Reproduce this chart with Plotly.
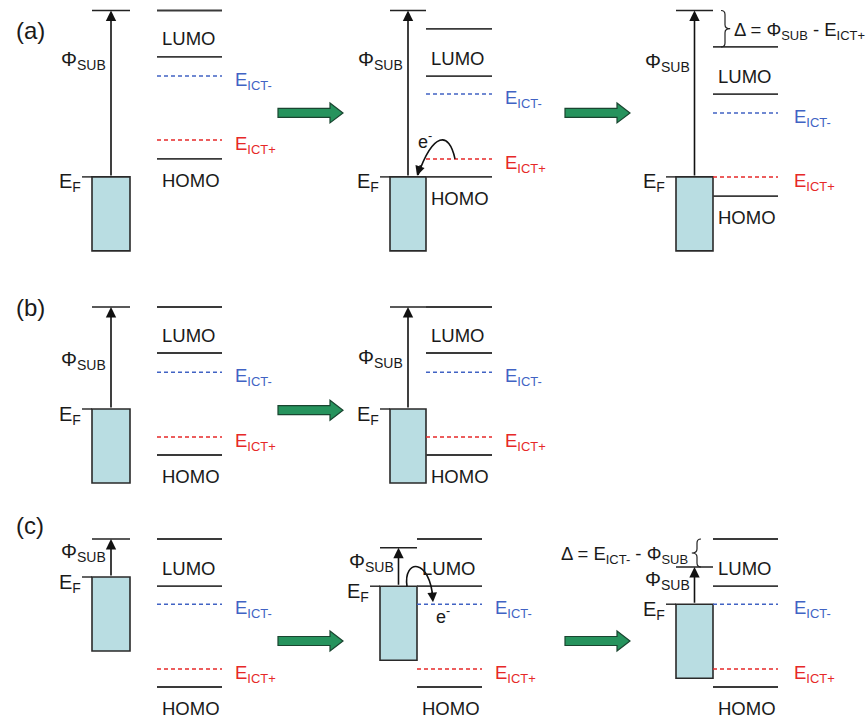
import plotly.graph_objects as go

# ---------------- data (energies in eV, relative to the vacuum level of each row) ----------------
panels = ["a1", "a2", "a3", "b1", "b2", "c1", "c2", "c3"]
panel_row = [0, 0, 0, 1, 1, 2, 2, 2]
vacuum_level = [0.0, 0.0, 0.0, 0.0, 0.0, 0.0, -0.22, -0.70]
fermi_level = [-4.16, -4.16, -4.16, -2.55, -2.55, -0.95, -1.18, -1.63]
mol_vacuum = [0.0, -0.46, -0.91, 0.0, 0.0, 0.0, 0.0, 0.0]
lumo = [-1.16, -1.64, -2.09, -1.15, -1.15, -1.18, -1.18, -1.18]
e_ict_minus = [-1.64, -2.09, -2.56, -1.63, -1.63, -1.63, -1.63, -1.63]
e_ict_plus = [-3.24, -3.71, -4.16, -3.25, -3.25, -3.25, -3.25, -3.25]
homo = [-3.71, -4.16, -4.64, -3.70, -3.70, -3.70, -3.70, -3.70]
row_labels = ["(a)", "(b)", "(c)"]

# ---------------- layout / style ----------------
W, H = 868, 720
PX = 40.0  # pixels per eV
ROWS = [(0, 260, 10.5), (260, 490, 307), (490, 720, 539)]  # top px, bottom px, vacuum px
box_x0 = [92, 390, 676, 92, 390, 92, 380, 676]
box_x1 = [130, 426, 713, 130, 426, 130, 417, 713]
mol_x0 = [157, 426, 713, 157, 426, 157, 417, 713]
mol_x1 = [222, 492, 778, 222, 492, 222, 482, 778]
lbl_x = [233, 503, 792, 233, 503, 233, 493, 792]
phi_lbl_y = [-1.24, -1.24, -1.31, -1.33, -1.28, -0.33, -0.58, -1.03]
row_label_y = [-0.51, 0.0, 0.35]
box_depth = 1.85
green_arrows = [(0, 278, 343), (0, 565, 630), (1, 278, 343), (2, 278, 343), (2, 565, 630)]
green_arrow_y = [-2.56, -2.58, -2.55]

FONT = "Liberation Sans, Arial, sans-serif"
TXT = "#1a1a1a"
LEVEL = "#3a3a3a"
BLUE = "#4163c4"
RED = "#e62828"
BOX_FILL = "#b9dde2"
GREEN = "#26935d"

fig = go.Figure()
shapes = []
annotations = []


def refs(r):
    s = "" if r == 0 else str(r + 1)
    return "x" + s, "y" + s


def seg(r, x0, x1, e, color, width=1.6, dash="solid"):
    xr, yr = refs(r)
    fig.add_trace(go.Scatter(x=[x0, x1], y=[e, e], mode="lines",
                             line=dict(color=color, width=width, dash=dash),
                             xaxis=xr, yaxis=yr, showlegend=False, hoverinfo="skip"))


def text(r, x, y, s, size=18.5, color=TXT, xanchor="left", yshift=0, xshift=0):
    xr, yr = refs(r)
    annotations.append(dict(x=x, y=y, xref=xr, yref=yr, text=s, showarrow=False,
                            xanchor=xanchor, yanchor="middle", yshift=yshift, xshift=xshift,
                            font=dict(family=FONT, size=size, color=color)))


for i, p in enumerate(panels):
    r = panel_row[i]
    xr, yr = refs(r)
    # substrate box
    shapes.append(dict(type="rect", xref=xr, yref=yr, x0=box_x0[i], x1=box_x1[i],
                       y0=fermi_level[i] - box_depth, y1=fermi_level[i],
                       fillcolor=BOX_FILL, line=dict(color="#2a2a2a", width=1.6), layer="below"))
    # E_F tick and vacuum level line
    seg(r, box_x0[i] - 10, box_x0[i], fermi_level[i], "#222222", 1.4)
    seg(r, box_x0[i], box_x1[i], vacuum_level[i], "#222222", 1.4)
    # work function arrow
    xc = (box_x0[i] + box_x1[i]) / 2
    annotations.append(dict(x=xc, y=vacuum_level[i], ax=xc, ay=fermi_level[i], xref=xr, yref=yr,
                            axref=xr, ayref=yr, text="", showarrow=True, arrowhead=2,
                            arrowsize=1.3, arrowwidth=1.6, arrowcolor="#111111"))
    # molecular levels
    seg(r, mol_x0[i], mol_x1[i], mol_vacuum[i], LEVEL, 1.8)
    seg(r, mol_x0[i], mol_x1[i], lumo[i], LEVEL, 1.8)
    seg(r, mol_x0[i], mol_x1[i], homo[i], LEVEL, 1.8)
    seg(r, mol_x0[i], mol_x1[i], e_ict_minus[i], BLUE, 1.5, "4px,3px")
    seg(r, mol_x0[i], mol_x1[i], e_ict_plus[i], RED, 1.5, "4px,3px")
    # labels
    text(r, mol_x0[i] + 3, lumo[i], "LUMO", yshift=18)
    text(r, mol_x0[i] + 3, homo[i], "HOMO", yshift=-21.5)
    text(r, lbl_x[i], e_ict_minus[i], "E<sub>ICT-</sub>", color=BLUE, yshift=-5)
    text(r, lbl_x[i], e_ict_plus[i], "E<sub>ICT+</sub>", color=RED, yshift=-5)
    text(r, box_x0[i] - 9, fermi_level[i], "E<sub>F</sub>", size=20, xanchor="right", yshift=-6)
    text(r, xc - 3, phi_lbl_y[i], "\u03a6<sub>SUB</sub>", size=20, xanchor="right", yshift=0)

# row labels
for r, lab in enumerate(row_labels):
    text(r, 14, row_label_y[r], lab, size=24)

# green block arrows
bh, hh, hl = 4.5 / PX, 10.0 / PX, 13.0
for r, x0, x1 in green_arrows:
    xr, yr = refs(r)
    y = green_arrow_y[r]
    xh = x1 - hl
    path = (f"M {x0},{y + bh} L {xh},{y + bh} L {xh},{y + hh} L {x1},{y} "
            f"L {xh},{y - hh} L {xh},{y - bh} L {x0},{y - bh} Z")
    shapes.append(dict(type="path", xref=xr, yref=yr, path=path, fillcolor=GREEN,
                       line=dict(color="#1a4530", width=1.2)))

# electron transfer arrows
# (a) middle: from E_ICT+ down into the substrate Fermi level
i = 1
xr, yr = refs(0)
tip_a = fermi_level[i] + 0.05
shapes.append(dict(type="path", xref=xr, yref=yr,
                   path=f"M 455,{e_ict_plus[i]} C 449,-3.0 433,-3.05 418,{tip_a}",
                   line=dict(color="#111111", width=1.6)))
annotations.append(dict(x=417, y=fermi_level[i] + 0.03, xref=xr, yref=yr, ax=4, ay=-12,
                        text="", showarrow=True, arrowhead=2, arrowsize=1.2, arrowwidth=1.6,
                        arrowcolor="#111111"))
text(0, 425, -3.24, "e<sup>-</sup>", size=18, xanchor="center")

# (c) middle: from substrate Fermi level into E_ICT-
i = 6
xr, yr = refs(2)
shapes.append(dict(type="path", xref=xr, yref=yr,
                   path=f"M 407,{fermi_level[i]} C 403,-0.5 430,-0.45 433,{e_ict_minus[i] + 0.12}",
                   line=dict(color="#111111", width=1.6)))
annotations.append(dict(x=433, y=e_ict_minus[i] + 0.05, xref=xr, yref=yr, ax=-1, ay=-12,
                        text="", showarrow=True, arrowhead=2, arrowsize=1.2, arrowwidth=1.6,
                        arrowcolor="#111111"))
text(2, 443, -1.9, "e<sup>-</sup>", size=18, xanchor="center")


# braces and offset labels
def brace(r, x, top, bot, direction):
    xr, yr = refs(r)
    mid = (top + bot) / 2
    c = 4.0 * direction
    d = 0.1
    path = (f"M {x - c},{top} Q {x},{top} {x},{top - d} L {x},{mid + d} Q {x},{mid} {x + c * 1.3},{mid} "
            f"Q {x},{mid} {x},{mid - d} L {x},{bot + d} Q {x},{bot} {x - c},{bot}")
    shapes.append(dict(type="path", xref=xr, yref=yr, path=path,
                       line=dict(color="#222222", width=1.2)))
    return mid


m = brace(0, 725, vacuum_level[2], mol_vacuum[2], 1)
text(0, 732, m, "\u0394 = \u03a6<sub>SUB</sub> - E<sub>ICT+</sub>", size=18.5, yshift=-2)
m = brace(2, 697, mol_vacuum[7], vacuum_level[7], -1)
text(2, 690, m, "\u0394 = E<sub>ICT-</sub> - \u03a6<sub>SUB</sub>", size=18.5, xanchor="right", yshift=-2)

layout = dict(width=W, height=H, margin=dict(l=0, r=0, t=0, b=0),
              paper_bgcolor="white", plot_bgcolor="white", showlegend=False,
              shapes=shapes, annotations=annotations)
for r, (top, bot, vac) in enumerate(ROWS):
    s = "" if r == 0 else str(r + 1)
    layout["xaxis" + s] = dict(range=[0, W], domain=[0, 1], anchor="y" + s, visible=False,
                               fixedrange=True)
    layout["yaxis" + s] = dict(range=[-(bot - vac) / PX, (vac - top) / PX],
                               domain=[1 - bot / H, 1 - top / H], anchor="x" + s,
                               visible=False, fixedrange=True)
fig.update_layout(**layout)
fig.write_html("out.html")
